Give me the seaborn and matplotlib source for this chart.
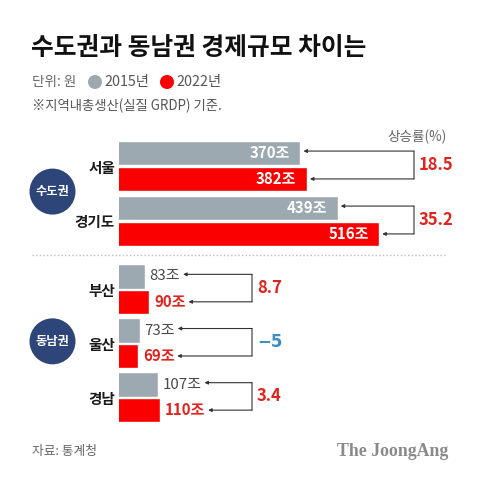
import matplotlib
matplotlib.use("Agg")
import matplotlib.pyplot as plt
import seaborn as sns
import pandas as pd
from matplotlib.patches import Ellipse
from matplotlib.lines import Line2D

# ---------------- data ----------------
regions = ["서울", "경기도", "부산", "울산", "경남"]
groups = ["수도권", "수도권", "동남권", "동남권", "동남권"]
years = ["2015년", "2022년"]
grdp_2015 = [370, 439, 83, 73, 107]
grdp_2022 = [382, 516, 90, 69, 110]
growth = [18.5, 35.2, 8.7, -5, 3.4]
group_order = ["수도권", "동남권"]

title = "수도권과 동남권 경제규모 차이는"
unit_text = "단위: 원"
note_text = "※지역내총생산(실질 GRDP) 기준."
growth_title = "상승률(%)"
source_text = "자료: 통계청"
brand_text = "The JoongAng"

# ---------------- style ----------------
GRAY = "#9DA9B1"
RED = "#FA0000"
RED_TXT = "#E0231C"
BLUE_TXT = "#3B8EC2"
NAVY = "#2D4579"
palette = {years[0]: GRAY, years[1]: RED}

sns.set_theme(style="white")
plt.rcParams["font.family"] = ["Noto Sans CJK KR", "DejaVu Sans"]

W, H = 480, 478
fig = plt.figure(figsize=(W / 100, H / 100), dpi=100, facecolor="white")

def fx(x):
    return x / W

def fy(y_top):
    return 1 - y_top / H

df = pd.DataFrame({
    "region": regions * 2,
    "group": groups * 2,
    "year": [years[0]] * len(regions) + [years[1]] * len(regions),
    "value": grdp_2015 + grdp_2022,
})

# layout (pixels from top-left)
AX_LEFT, AX_RIGHT = 119, 460
X0 = 34            # truncated value axis start
PX_PER_UNIT = 0.54
panel_rows = {"수도권": (138.5, 248.5), "동남권": (262.0, 424.5)}
bracket_x = {"수도권": 414, "동남권": 252}

axes = {}
for g in group_order:
    top, bot = panel_rows[g]
    ax = fig.add_axes([fx(AX_LEFT), fy(bot), fx(AX_RIGHT - AX_LEFT), (bot - top) / H])
    sub = df[df["group"] == g]
    sns.barplot(data=sub, x="value", y="region", hue="year", hue_order=years,
                palette=palette, orient="h", width=0.94, gap=0.04,
                saturation=1, errorbar=None, legend=False, ax=ax)
    ax.set_xlim(X0, X0 + (AX_RIGHT - AX_LEFT) / PX_PER_UNIT)
    ax.set_xlabel("")
    ax.set_ylabel("")
    ax.set_xticks([])
    for s in ax.spines.values():
        s.set_visible(False)
    ax.set_facecolor("none")
    ax.tick_params(axis="y", length=0, pad=3, labelsize=10.5, labelcolor="#1a1a1a")
    for lbl in ax.get_yticklabels():
        lbl.set_fontweight("bold")
    axes[g] = ax

# value labels
label_texts = {}
for g in group_order:
    ax = axes[g]
    sub_regions = [r for r, gg in zip(regions, groups) if gg == g]
    for k, cont in enumerate(ax.containers):
        for i, rect in enumerate(cont):
            v = rect.get_width()
            cy = rect.get_y() + rect.get_height() / 2
            txt = f"{int(round(v))}조"
            if g == "수도권":
                t = ax.annotate(txt, xy=(v, cy), xytext=(-7.5, 0), textcoords="offset points",
                                ha="right", va="center", color="white",
                                fontsize=10.8, fontweight="bold")
            else:
                if k == 0:
                    t = ax.annotate(txt, xy=(v, cy), xytext=(3, 0), textcoords="offset points",
                                    ha="left", va="center", color="#4A4A4A",
                                    fontsize=10.8, fontweight="medium")
                else:
                    t = ax.annotate(txt, xy=(v, cy), xytext=(3.5, 0), textcoords="offset points",
                                    ha="left", va="center", color=RED_TXT,
                                    fontsize=10.8, fontweight="bold")
            label_texts[(sub_regions[i], k)] = (t, rect)

fig.canvas.draw()
renderer = fig.canvas.get_renderer()

# arrows and growth rates
arrow_kw = dict(arrowstyle="-|>", color="#333333", lw=0.8, shrinkA=0, shrinkB=0,
                mutation_scale=5)
line_kw = dict(arrowstyle="-", color="#333333", lw=0.8, shrinkA=0, shrinkB=0)
for r, g, gr in zip(regions, groups, growth):
    ax = axes[g]
    bx = bracket_x[g]
    ys = []
    for k in range(2):
        t, rect = label_texts[(r, k)]
        cy = rect.get_y() + rect.get_height() / 2
        ex, ey = ax.transData.transform((rect.get_width(), cy))
        if g == "수도권":
            hx = ex + 3
        else:
            hx = t.get_window_extent(renderer).x1 + 3
        ey = ey + (2 if k == 0 else 0)
        ys.append(ey)
        ax.annotate("", xy=(hx, ey), xycoords="figure pixels",
                    xytext=(bx, ey), textcoords="figure pixels", arrowprops=arrow_kw)
    ax.annotate("", xy=(bx, ys[0]), xycoords="figure pixels",
                xytext=(bx, ys[1]), textcoords="figure pixels", arrowprops=line_kw)
    s = f"{gr:g}".replace("-", "−")
    ax.annotate(s, xy=(bx + 5, (ys[0] + ys[1]) / 2), xycoords="figure pixels",
                ha="left", va="center", fontsize=12, fontweight="bold",
                color=RED_TXT if gr >= 0 else BLUE_TXT,
                family=["DejaVu Sans"] if gr < 0 else None)

# group circles
for g in group_order:
    pos = axes[g].get_position()
    cy = pos.y0 + pos.height / 2 + 0.004
    cx = fx(52.5)
    fig.add_artist(Ellipse((cx, cy), width=46 / W, height=46 / H,
                           transform=fig.transFigure, facecolor=NAVY, edgecolor="none"))
    fig.text(cx, cy, g, ha="center", va="center", color="white",
             fontsize=8.8, fontweight="bold")

# separator
fig.add_artist(Line2D([fx(32), fx(445)], [fy(255), fy(255)], transform=fig.transFigure,
                      color="#BBBBBB", lw=1.0, ls=(0, (1, 1.6))))

# titles & legend
fig.text(fx(31), fy(48), title, ha="left", va="center", fontsize=17.8,
         fontweight="bold", color="#111111")
fig.text(fx(32), fy(82), unit_text, ha="left", va="center", fontsize=9.8, color="#666666")
legend_x = [95, 167]
for yr, lx in zip(years, legend_x):
    fig.add_artist(Ellipse((fx(lx), fy(82)), width=14 / W, height=14 / H,
                           transform=fig.transFigure, facecolor=palette[yr], edgecolor="none"))
    fig.text(fx(lx + 9), fy(82), yr, ha="left", va="center", fontsize=10.3, color="#555555")
fig.text(fx(32), fy(106), note_text, ha="left", va="center", fontsize=9.6, color="#555555")
fig.text(fx(447), fy(137), growth_title, ha="right", va="center", fontsize=9.8, color="#666666")

# footer
fig.text(fx(32), fy(452), source_text, ha="left", va="center", fontsize=9.2, color="#666666")
fig.text(fx(448), fy(452), brand_text, ha="right", va="center", fontsize=12.8,
         fontweight="bold", color="#8A8A8A", family=["Liberation Serif", "DejaVu Serif"])

fig.savefig("out.png", dpi=100, facecolor="white")
